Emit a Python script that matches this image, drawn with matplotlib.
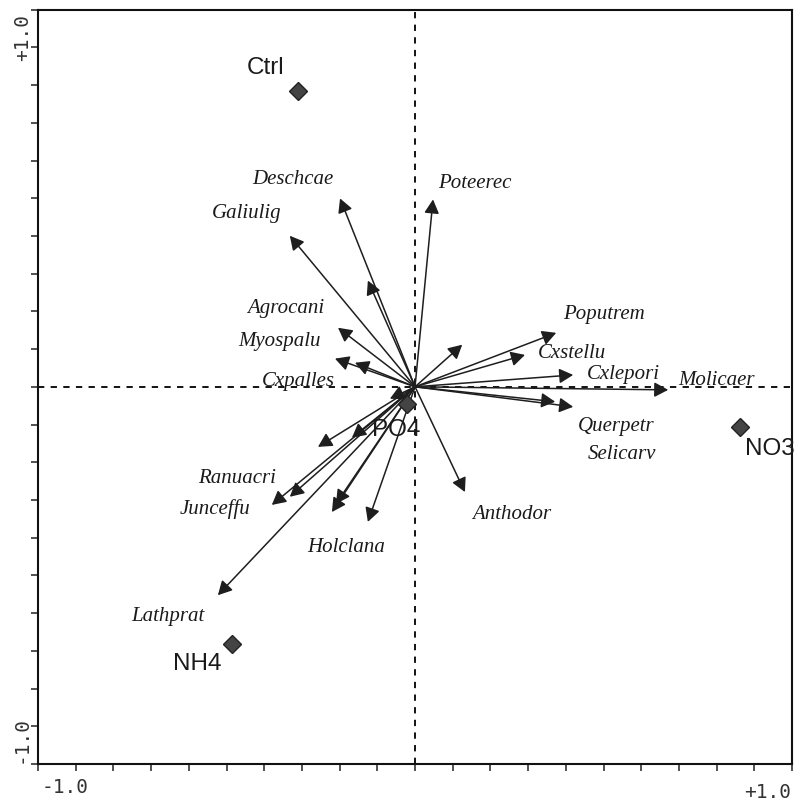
import matplotlib
matplotlib.use("Agg")
import matplotlib.pyplot as plt
import numpy as np

# species scores (arrow tips), unnamed arrows have an empty label
species = ["Deschcae", "", "Galiulig", "Agrocani", "Myospalu", "", "Cxpalles",
           "Poteerec", "", "Poputrem", "Cxstellu", "Cxlepori", "Molicaer",
           "Querpetr", "Selicarv", "Anthodor", "", "", "Ranuacri", "Junceffu",
           "", "", "Holclana", "Lathprat"]
sp_x = [-0.221, -0.139, -0.369, -0.227, -0.236, -0.177, -0.074,
        0.053, 0.139, 0.416, 0.324, 0.466, 0.746,
        0.466, 0.413, 0.147, -0.286, -0.186, -0.369, -0.422,
        -0.233, -0.245, -0.139, -0.581]
sp_y = [0.555, 0.313, 0.445, 0.174, 0.083, 0.071, -0.035,
        0.552, 0.124, 0.159, 0.094, 0.035, -0.009,
        -0.059, -0.044, -0.310, -0.177, -0.150, -0.324, -0.348,
        -0.345, -0.369, -0.398, -0.614]

# treatment centroids
treatments = ["Ctrl", "NH4", "NO3", "PO4"]
tr_x = [-0.345, -0.540, 0.957, -0.024]
tr_y = [0.870, -0.758, -0.118, -0.050]

# where the names are written (left edge, vertical centre)
sp_label_pos = {
    "Deschcae": (-0.481, 0.611), "Galiulig": (-0.599, 0.510),
    "Agrocani": (-0.496, 0.230), "Myospalu": (-0.522, 0.133),
    "Cxpalles": (-0.451, 0.015), "Poteerec": (0.068, 0.599),
    "Poputrem": (0.437, 0.212), "Cxstellu": (0.363, 0.097),
    "Cxlepori": (0.507, 0.035), "Molicaer": (0.776, 0.018),
    "Querpetr": (0.481, -0.118), "Selicarv": (0.510, -0.198),
    "Anthodor": (0.168, -0.375), "Ranuacri": (-0.640, -0.271),
    "Junceffu": (-0.693, -0.360), "Holclana": (-0.319, -0.472),
    "Lathprat": (-0.835, -0.678),
}
tr_label_pos = {"Ctrl": (-0.496, 0.938), "NH4": (-0.714, -0.817),
                "NO3": (0.972, -0.183), "PO4": (-0.127, -0.127)}

lim = 10 / 9.0

fig = plt.figure(figsize=(7.98, 8.05), dpi=100)
ax = fig.add_axes([0.0476, 0.0510, 0.945, 0.937])
ax.set_xlim(-lim, lim)
ax.set_ylim(-lim, lim)

# dashed zero lines
ax.axhline(0, color="black", lw=1.3, dashes=(3.5, 3.5), zorder=1)
ax.axvline(0, color="black", lw=1.3, dashes=(3.5, 3.5), zorder=1)

for x, y in zip(sp_x, sp_y):
    ax.annotate("", xy=(x, y), xytext=(0, 0),
                arrowprops=dict(arrowstyle="-|>,head_length=0.6,head_width=0.32",
                                mutation_scale=14, lw=1.1, color="#1e1e1e",
                                facecolor="#444444", shrinkA=0, shrinkB=0),
                zorder=3)

for name in species:
    if name:
        lx, ly = sp_label_pos[name]
        ax.text(lx, ly, name, family="Liberation Serif", style="italic",
                fontsize=15, color="#1a1a1a", ha="left", va="center", zorder=4)

ax.plot(tr_x, tr_y, linestyle="none", marker="D", markersize=9.5,
        markerfacecolor="#444444", markeredgecolor="#222222", zorder=5)
for name in treatments:
    lx, ly = tr_label_pos[name]
    ax.text(lx, ly, name, family="Liberation Sans", fontsize=17.5,
            color="#1a1a1a", ha="left", va="center", zorder=4, clip_on=False)

# ticks every 1/9, only the ends are labelled
ticks = np.linspace(-lim, lim, 21)
ax.set_xticks(ticks)
ax.set_yticks(ticks)
ax.set_xticklabels([])
ax.set_yticklabels([])
ax.tick_params(direction="out", length=5, width=1.1, color="#222222")
for sp in ax.spines.values():
    sp.set_linewidth(1.5)
    sp.set_color("#111111")

mono = dict(family="DejaVu Sans Mono", fontsize=14, color="#333333")
ax.text(-1.03, -1.18, "-1.0", ha="center", va="center", clip_on=False, **mono)
ax.text(1.04, -1.195, "+1.0", ha="center", va="center", clip_on=False, **mono)
ax.text(-1.155, 1.03, "+1.0", rotation=90, ha="center", va="center",
        clip_on=False, **mono)
ax.text(-1.16, -1.04, "-1.0", rotation=90, ha="center", va="center",
        clip_on=False, **mono)

fig.savefig("out.png", dpi=100)
